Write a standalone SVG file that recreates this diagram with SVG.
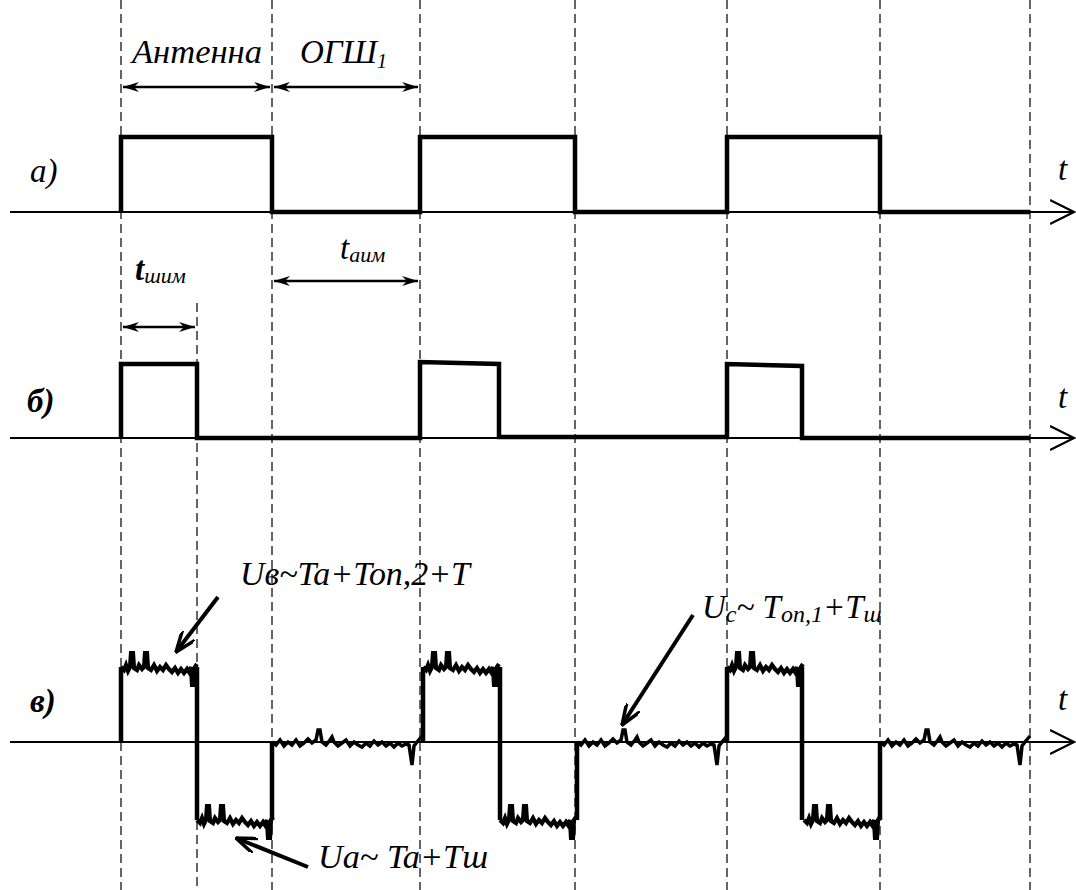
<svg xmlns="http://www.w3.org/2000/svg" width="1076" height="890" viewBox="0 0 1076 890">
<style>
.dash{stroke:#333;stroke-width:1.5;stroke-dasharray:9 5;fill:none}
.axis{stroke:#000;stroke-width:2.2;fill:none}
.sig{stroke:#000;stroke-width:4.5;fill:none;stroke-linejoin:miter}
.noise{stroke:#000;stroke-width:4.2;fill:none;stroke-linejoin:miter}
.dim{stroke:#000;stroke-width:2.5;fill:none}
.ptr{stroke:#000;stroke-width:4;fill:none}
text{font-style:italic;fill:#000}
.lbl{font-size:33px}
.b{font-weight:bold}
.sub{font-size:22px}
</style>
<defs>
<marker id="ah" viewBox="0 0 16 10" refX="16" refY="5" markerWidth="16" markerHeight="10" markerUnits="userSpaceOnUse" orient="auto-start-reverse">
<path d="M0,0 L16,5 L0,10 L5,5 z" fill="#000"/>
</marker>
<marker id="vh" viewBox="0 0 22 16" refX="21" refY="8" markerWidth="22" markerHeight="16" markerUnits="userSpaceOnUse" orient="auto">
<path d="M0,0 L21,8 L0,16" fill="none" stroke="#000" stroke-width="3.5"/>
</marker>
<marker id="ax" viewBox="0 0 26 26" refX="24" refY="13" markerWidth="26" markerHeight="26" markerUnits="userSpaceOnUse" orient="auto">
<path d="M0,1 L24,13 L0,25" fill="none" stroke="#000" stroke-width="2.2"/>
</marker>
<path id="nt" d="M0,0 L3,3 L5,-2 L7,4 L9,0 L10,-14 L12,-14 L13,1 L16,3 L18,-2 L21,2 L23,0 L24,-14 L26,-14 L27,1 L30,3 L33,-2 L36,4 L39,0 L42,3 L45,-2 L48,2 L51,5 L54,1 L57,6 L60,2 L63,6 L66,2 L68,5 L70,0 L71,18 L73,18 L74,0 L76,-3"/>
<path id="nm" d="M0,0 L4,3 L8,-2 L12,4 L16,0 L20,3 L24,-2 L28,4 L32,1 L36,-3 L40,1 L44,-2 L46,-12 L48,-12 L50,0 L54,3 L58,-2 L60,-5 L62,0 L66,4 L70,1 L74,-2 L78,4 L82,0 L86,3 L90,5 L94,1 L98,4 L102,-1 L106,3 L110,0 L114,4 L118,1 L122,5 L126,1 L130,4 L134,2 L137,3 L140,23 L142,4 L145,0 L150,-6"/>
</defs>

<g id="grid">
<line class="dash" x1="121" y1="0" x2="121" y2="890"/>
<line class="dash" x1="197" y1="303" x2="197" y2="890"/>
<line class="dash" x1="272" y1="0" x2="272" y2="890"/>
<line class="dash" x1="420" y1="0" x2="420" y2="890"/>
<line class="dash" x1="575" y1="0" x2="575" y2="890"/>
<line class="dash" x1="727" y1="0" x2="727" y2="890"/>
<line class="dash" x1="880" y1="0" x2="880" y2="890"/>
<line class="dash" x1="1030" y1="0" x2="1030" y2="890"/>
</g>

<g font-family="Liberation Serif, DejaVu Serif, serif">
<g id="header">
<text class="lbl" x="132" y="63" textLength="130" lengthAdjust="spacingAndGlyphs">Антенна</text>
<text class="lbl" x="300" y="63">ОГШ<tspan style="font-size:20px" dy="5">1</tspan></text>
<line class="dim" x1="123" y1="87" x2="270" y2="87" marker-start="url(#ah)" marker-end="url(#ah)"/>
<line class="dim" x1="274" y1="87" x2="418" y2="87" marker-start="url(#ah)" marker-end="url(#ah)"/>
</g>

<g id="panel-a">
<text class="lbl" x="30" y="182">а)</text>
<text class="lbl" x="1058" y="180">t</text>
<line class="axis" x1="10" y1="212" x2="1074" y2="212" marker-end="url(#ax)"/>
<path class="sig" d="M121,212 V137 H272 V212 H420 V137 H575 V212 H727 V137 H880 V212 H1030"/>
</g>

<g id="panel-b">
<text class="lbl b" x="27" y="412">б)</text>
<text class="lbl" x="1058" y="408">t</text>
<text class="lbl b" x="135" y="280">t<tspan class="sub" style="font-weight:normal" dy="3">шим</tspan></text>
<line class="dim" x1="123" y1="327" x2="195" y2="327" marker-start="url(#ah)" marker-end="url(#ah)"/>
<text class="lbl" x="340" y="259">t<tspan class="sub" dy="3">аим</tspan></text>
<line class="dim" x1="274" y1="281" x2="418" y2="281" marker-start="url(#ah)" marker-end="url(#ah)"/>
<line class="axis" x1="10" y1="438" x2="1074" y2="438" marker-end="url(#ax)"/>
<path class="sig" d="M121,438 V364 H197 V438 H420 V362 L499,364 V437 L727,437 V364 L802,366 V438 H1030"/>
</g>

<g id="panel-v">
<text class="lbl b" x="30" y="712">в)</text>
<text class="lbl" x="1058" y="710">t</text>
<line class="axis" x1="10" y1="742" x2="1074" y2="742" marker-end="url(#ax)"/>
<path class="sig" d="M121,742 V667 M197,667 V820 M272,820 V742 M423,742 V667 M500,667 V820 M577,820 V742 M727,742 V667 M802,667 V820 M880,820 V742"/>
<use href="#nt" class="noise" transform="translate(121,667)"/>
<use href="#nt" class="noise" transform="translate(423,667)"/>
<use href="#nt" class="noise" transform="translate(727,667)"/>
<use href="#nt" class="noise" transform="translate(197,820)"/>
<use href="#nt" class="noise" transform="translate(500,820)"/>
<use href="#nt" class="noise" transform="translate(804,820)"/>
<use href="#nm" class="noise" style="stroke-width:3.5" transform="translate(272,742)"/>
<use href="#nm" class="noise" style="stroke-width:3.5" transform="translate(577,742)"/>
<use href="#nm" class="noise" style="stroke-width:3.5" transform="translate(880,742)"/>
</g>

<g id="annotations">
<text class="lbl" x="240" y="585" textLength="230" lengthAdjust="spacingAndGlyphs">Uв~Ta+Ton,2+T</text>
<text class="lbl" x="702" y="618">U<tspan class="sub" style="font-size:24px" dy="4">c</tspan><tspan dy="-4">~ T</tspan><tspan class="sub" style="font-size:24px" dy="4">on,1</tspan><tspan dy="-4">+T</tspan><tspan class="sub" style="font-size:24px" dy="4">ш</tspan></text>
<text class="lbl" x="318" y="868" textLength="170" lengthAdjust="spacingAndGlyphs">Ua~ Ta+Tш</text>
</g>
</g>

<g id="connectors">
<line class="ptr" x1="218" y1="597" x2="176" y2="652" marker-end="url(#vh)"/>
<line class="ptr" x1="693" y1="615" x2="622" y2="725" marker-end="url(#vh)"/>
<line class="ptr" x1="308" y1="867" x2="236" y2="838" marker-end="url(#vh)"/>
</g>
</svg>
